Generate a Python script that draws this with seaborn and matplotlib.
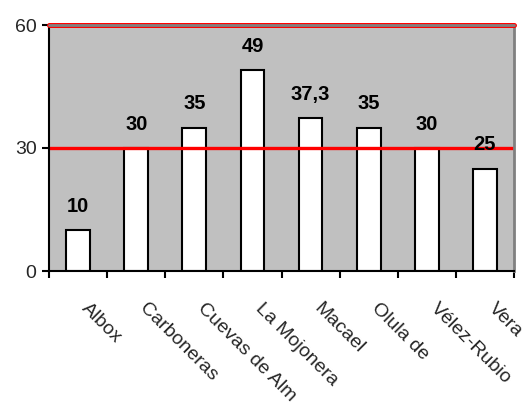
import matplotlib
matplotlib.use("Agg")
import matplotlib.pyplot as plt
import matplotlib.transforms as mtransforms
import seaborn as sns
import pandas as pd

municipios = ["Albox", "Carboneras", "Cuevas de Alm", "La Mojonera", "Macael",
              "Olula de", "Vélez-Rubio", "Vera"]
valores = [10, 30, 35, 49, 37.3, 35, 30, 25]
etiquetas = ["10", "30", "35", "49", "37,3", "35", "30", "25"]
referencia = 30
y_ticks = [0, 30, 60]

sns.set_theme(style="white")
plt.rcParams["font.family"] = ["Liberation Sans", "DejaVu Sans"]

df = pd.DataFrame({"municipio": municipios, "valor": valores})

fig = plt.figure(figsize=(5.28, 4.09), dpi=100)
ax = fig.add_axes([49 / 528, 1 - 271 / 409, 465 / 528, 246 / 409])
ax.set_facecolor("#c0c0c0")

sns.barplot(data=df, x="municipio", y="valor", ax=ax, color="white",
            edgecolor="black", linewidth=1.5, width=0.41, saturation=1)

# reference lines
ax.axhline(referencia, color="#ff0000", lw=2.4, zorder=1)
ax.axhline(60, color="#ff0000", lw=3.6, zorder=4, clip_on=False)
ax.axhline(60, color="#808080", lw=2.0, zorder=5, clip_on=False)

for i, (v, t) in enumerate(zip(valores, etiquetas)):
    ax.annotate(t, (i, v), xytext=(0, 17), textcoords="offset points",
                ha="center", va="center", fontsize=14.5, fontweight="bold",
                color="black", zorder=6)

ax.set_xlim(-0.5, len(municipios) - 0.5)
ax.set_ylim(0, 60)
ax.set_yticks(y_ticks)
ax.set_yticklabels([str(t) for t in y_ticks], fontsize=14)
ax.set_xlabel("")
ax.set_ylabel("")

# category labels between boundary ticks
ax.set_xticks(range(len(municipios)))
ax.set_xticklabels(municipios, rotation=-45, ha="left", va="top",
                   rotation_mode="anchor", fontsize=14)
ax.tick_params(axis="x", which="major", length=0, pad=21)
shift = mtransforms.ScaledTranslation(12 / 100, 0, fig.dpi_scale_trans)
for lbl in ax.get_xticklabels():
    lbl.set_transform(lbl.get_transform() + shift)
ax.set_xticks([i - 0.5 for i in range(len(municipios) + 1)], minor=True)
ax.tick_params(axis="x", which="minor", length=5, width=1.5, color="black",
               direction="out", bottom=True)
ax.tick_params(axis="y", length=5, width=1.5, color="black", direction="out",
               left=True, pad=4)

for side in ["left", "bottom"]:
    ax.spines[side].set_color("black")
    ax.spines[side].set_linewidth(1.5)
ax.spines["right"].set_color("#808080")
ax.spines["right"].set_linewidth(2)
ax.spines["top"].set_visible(False)

fig.savefig("out.png", dpi=100)
